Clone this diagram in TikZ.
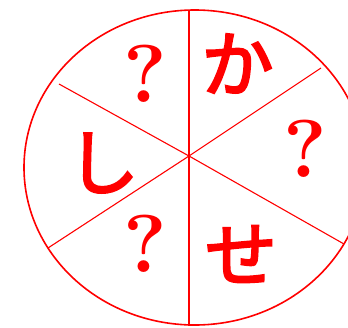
\documentclass[tikz,border=0pt]{standalone}
\usepackage{fontspec}
\newfontfamily\jpfont[FakeBold=3]{Noto Sans CJK JP}
\begin{document}
\begin{tikzpicture}[x=1pt,y=-1pt,
  rim/.style={draw=red,line width=1.6pt},
  spoke/.style={draw=red,line width=1.1pt},
  qmark/.style={text=red,inner sep=0pt,font=\fontsize{82}{82}\selectfont\bfseries},
  kana/.style={text=red,inner sep=0pt,font=\jpfont\fontsize{72}{72}\selectfont}]
\useasboundingbox (0,0) rectangle (348,327);
\draw[rim] (194.7,167.5) ellipse [x radius=170.7, y radius=157.5];
\coordinate (c) at (189,156);
\coordinate (t) at (189,11);
\coordinate (b) at (189,326);
\coordinate (ul) at (59,84);
\coordinate (ll) at (48,248);
\coordinate (ur) at (321,68);
\coordinate (lr) at (344,244);
\draw[spoke] (t) -- (b);
\draw[spoke] (ul) -- (c) -- (lr);
\draw[spoke] (ll) -- (c) -- (ur);
\node[qmark] (q1) at (145.5,74) {?};
\node[qmark] (q2) at (305.5,148.5) {?};
\node[qmark] (q3) at (145.5,243.5) {?};
\node[kana] (ka) at (237.5,63.5) {か};
\node[kana] (shi) at (103,163) {し};
\node[kana] (se) at (241,254) {せ};
\end{tikzpicture}
\end{document}
